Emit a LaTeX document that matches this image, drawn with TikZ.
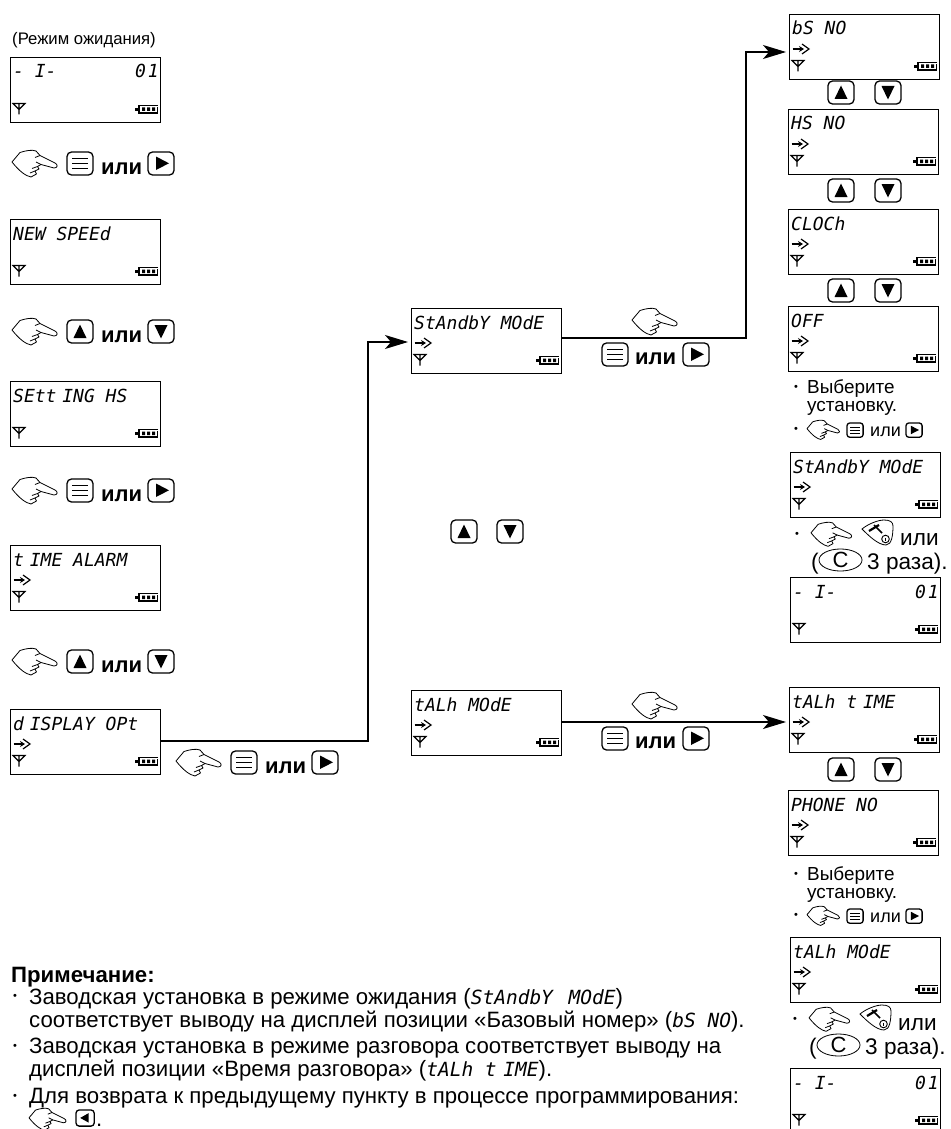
\documentclass[tikz,border=0pt]{standalone}
\usepackage{fontspec}
\setmainfont{Liberation Sans}
\newfontfamily\lcdf{DejaVu Sans Mono}
\usetikzlibrary{arrows.meta,shapes.geometric}
\tikzset{
  lcdbox/.style={draw=black,line width=0.9pt,anchor=north west,inner sep=0pt,minimum width=150pt,minimum height=65pt},
  lcdtext/.style={anchor=base west,inner sep=0pt,font=\lcdf\itshape\fontsize{18}{18}\selectfont},
  lcdicon/.style={line width=1.2pt},
  link/.style={line width=1.2pt,black},
  arrowlink/.style={link,-{Stealth[length=23pt,width=14pt,inset=6pt]},shorten >=3pt},
  bigor/.style={anchor=base west,inner sep=0pt,font=\bfseries\fontsize{22}{22}\selectfont},
  txt/.style={anchor=base west,inner sep=0pt,font=\fontsize{18.9}{19}\selectfont},
  smallor/.style={anchor=base west,inner sep=0pt,font=\fontsize{18}{18}\selectfont},
  big/.style={anchor=base west,inner sep=0pt,font=\fontsize{22.6}{23}\selectfont},
  note/.style={anchor=base west,inner sep=0pt,font=\fontsize{22.2}{22}\selectfont},
  dot/.style={anchor=center,inner sep=0pt,font=\fontsize{11}{11}\selectfont},
}
\newcommand\inl[1]{{\lcdf\itshape\fontsize{19.5}{20}\selectfont #1}}
\newcommand\tgt{\hspace{-5pt}}
% LCD display: name, x, y, text
\newcommand\lcd[4]{%
  \node[lcdbox] (#1) at (#2,#3) {};
  \node[lcdtext] (#1t) at (#2+3,#3+21) {#4};
  \begin{scope}[shift={(#2+3,#3+46)},lcdicon]
    \draw (0,0.5)--(12,0.5)--(6,6.5)--cycle (6,0.5)--(6,11.5);
  \end{scope}
  \begin{scope}[shift={(#2+125,#3+48)}]
    \fill (0,3) rectangle (4,6);
    \draw[line width=1.4pt] (23,0.6)--(4,0.6)--(4,8)--(23,8);
    \fill (23,2)rectangle(22.2,7);
    \fill (7,2.5) rectangle (10,6) (12,2.5) rectangle (15,6) (17,2.5) rectangle (20,6);
  \end{scope}}
\newcommand\lcdarrow[2]{%
  \begin{scope}[shift={(#1+3,#2+35)},lcdicon]
    \draw[-{Stealth[length=5pt,width=6pt]}] (0.5,0)--(12,0);
    \draw (10,-5)--(17,0)--(10,5);
  \end{scope}}
% pointing hand: x, y, scale
\newcommand\hand[3]{%
  \begin{scope}[shift={(#1,#2)},scale=#3,line width=0.8pt,line join=round]
    \draw (0,12)--(8,2.5) .. controls (14,0.5) and (20,-0.5) .. (24,1)--(28,5.5)--(43,13)
      .. controls (46,14.5) and (46,18) .. (42,18)--(29,14.5)--(25.5,16.5)--(27,19)--(23,21)--(24.5,24)--(19,27)
      .. controls (14,26) and (8,22) .. (0,12);
    \draw (28,5.5)--(23,7.5) (29,14.5)--(24,12) (25.5,16.5)--(20,18.5) (23,21)--(18,23);
  \end{scope}}
% key: x, y, scale, kind
\newcommand\glyphmenu{\draw[line width=1pt] (5,6.5)--(21,6.5) (5,11.5)--(21,11.5) (5,16.5)--(21,16.5);}
\newcommand\glyphright{\fill (8,4.5)--(8,18)--(21,11.3)--cycle;}
\newcommand\glyphleft{\fill (18,4.5)--(18,18)--(6,11.3)--cycle;}
\newcommand\glyphup{\fill (13,4.5)--(6.5,18)--(19.5,18)--cycle;}
\newcommand\glyphdown{\fill (6.5,5)--(19.5,5)--(13,18.5)--cycle;}
\newcommand\keyb[4]{%
  \begin{scope}[shift={(#1,#2)},scale=#3]
    \pgfmathsetlengthmacro\rc{4.5pt*#3}
    \draw[line width=1.3pt,rounded corners=\rc] (0,0) rectangle (26,23);
    \csname glyph#4\endcsname
  \end{scope}}
\newcommand\bigrow[5]{% name, x, y, key1, key2
  \hand{#2}{#3}{1}
  \keyb{#2+55}{#3+2}{1}{#4}
  \node[bigor] (#1) at (#2+89,#3+24) {или};
  \keyb{#2+136}{#3+2}{1}{#5}}
\newcommand\updown[1]{\keyb{828}{#1}{1}{up}\keyb{875}{#1}{1}{down}}
\newcommand\pickrow[3]{% name, baseline 1, hand y
  \node[dot] (#1a) at (796,#2-5) {•};
  \node[txt] (#1b) at (807,#2) {Выберите};
  \node[txt] (#1c) at (807,#2+18) {установку.};
  \node[dot] (#1d) at (796,#3+10) {•};
  \hand{807}{#3}{0.72}
  \keyb{847}{#3+3}{0.62}{menu}
  \node[smallor] (#1e) at (870,#3+16) {или};
  \keyb{906}{#3+3}{0.62}{right}}
\newcommand\phonekey[2]{%
  \begin{scope}[shift={(#1,#2)},line width=0.8pt]
    \draw (0,9) .. controls (6,4) and (16,0) .. (22,0) .. controls (28,0) and (31,2) .. (31,6)
      .. controls (31,14) and (30,25) .. (24,25) .. controls (16,25) and (6,15) .. (0,9)--cycle;
    \draw[line width=2.2pt] (7,11)--(17,5);
    \draw[line width=1.6pt] (12,5)--(20,13);
    \draw[line width=0.9pt] (23.5,19) circle (3.8);
    \draw[line width=0.9pt] (23.5,17.5)--(23.5,20.5);
  \end{scope}}
\newcommand\exitrow[3]{% name, x, y
  \node[dot] (#1a) at (#2-14,#3+13) {•};
  \hand{#2}{#3}{0.9}
  \phonekey{#2+51}{#3-2}
  \node[big] (#1b) at (#2+89,#3+23) {или};
  \node[big] (#1c) at (#2,#3+47) {(};
  \node[draw,ellipse,line width=0.8pt,inner sep=0pt,minimum width=43pt,minimum height=20pt,font=\fontsize{22}{22}\selectfont] (#1d) at (#2+29.5,#3+38) {C};
  \node[big] (#1e) at (#2+56,#3+47) {3 раза).};}
\begin{document}
\begin{tikzpicture}[x=1pt,y=-1pt]
\useasboundingbox (0,0) rectangle (950,1129);
\clip (0,0) rectangle (950,1129);
% left column
\node[anchor=base west,inner sep=0pt,font=\fontsize{16.7}{17}\selectfont] (standby) at (12,45) {(Режим ожидания)};
\lcd{a1}{10}{57}{- I-}
\node[lcdtext,anchor=base east] (a1r) at (159,78) {0\hspace{2pt}1};
\bigrow{r1}{12}{150}{menu}{right}
\lcd{a2}{10}{219}{NEW SPEEd}
\bigrow{r2}{12}{318}{up}{down}
\lcd{a3}{10}{381}{SEtt\tgt{} ING HS}
\bigrow{r3}{12}{477}{menu}{right}
\lcd{a4}{10}{545}{t\tgt{} IME ALARM}\lcdarrow{10}{545}
\bigrow{r4}{12}{648}{up}{down}
\lcd{a5}{10}{709}{d\tgt{} ISPLAY OPt}\lcdarrow{10}{709}
\bigrow{r5}{176}{749}{menu}{right}
% middle column
\lcd{m1}{411}{308}{StAndbY MOdE}\lcdarrow{411}{308}
\hand{632}{308}{1}
\keyb{602}{343}{1}{menu}
\node[bigor] (m1or) at (635,364) {или};
\keyb{683}{343}{1}{right}
\keyb{451}{520}{1}{up}
\keyb{497}{520}{1}{down}
\lcd{m2}{411}{690}{tALh MOdE}\lcdarrow{411}{690}
\hand{632}{692}{1}
\keyb{602}{727}{1}{menu}
\node[bigor] (m2or) at (635,748) {или};
\keyb{683}{727}{1}{right}
% right column, standby
\lcd{s1}{789}{14}{bS NO}\lcdarrow{789}{14}
\updown{81}
\lcd{s2}{788}{109}{HS NO}\lcdarrow{788}{109}
\updown{179}
\lcd{s3}{788}{209}{CLOCh}\lcdarrow{788}{209}
\updown{279}
\lcd{s4}{788}{306}{OFF}\lcdarrow{788}{306}
\pickrow{c1}{393}{420}
\lcd{s5}{790}{452}{StAndbY MOdE}\lcdarrow{790}{452}
\exitrow{e1}{811}{522}
\lcd{s6}{790}{577}{- I-}
\node[lcdtext,anchor=base east] (s6r) at (939,598) {0\hspace{2pt}1};
% right column, talk
\lcd{t1}{789}{687}{tALh t\tgt{} IME}\lcdarrow{789}{687}
\updown{758}
\lcd{t2}{788}{790}{PHONE NO}\lcdarrow{788}{790}
\pickrow{c2}{880}{906}
\lcd{t3}{790}{937}{tALh MOdE}\lcdarrow{790}{937}
\exitrow{e2}{809}{1007}
\lcd{t4}{790}{1068}{- I-}
\node[lcdtext,anchor=base east] (t4r) at (939,1089) {0\hspace{2pt}1};
% connectors
\coordinate (p1) at (a5.east |- 0,741);
\coordinate (p2) at (m1.west |- 0,342);
\coordinate (p3) at (m1.east |- 0,338);
\coordinate (p4) at (s1.west |- 0,52);
\coordinate (p5) at (m2.east |- 0,722);
\coordinate (p6) at (t1.west |- 0,722);
\coordinate (v1) at (368,0);
\coordinate (v2) at (746,0);
\draw[arrowlink] (p1) -- (p1 -| v1) -- (v1 |- p2) -- (p2);
\draw[arrowlink] (p3) -- (p3 -| v2) -- (v2 |- p4) -- (p4);
\draw[arrowlink] (p5) -- (p6);
% notes
\node[anchor=base west,inner sep=0pt,font=\bfseries\fontsize{22.2}{22}\selectfont] (n0) at (11,982) {Примечание:};
\node[dot] (b1) at (15,997) {•};
\node[note] (n1) at (29,1004) {Заводская установка в режиме ожидания (\inl{StAndbY\hspace{4pt} MOdE})};
\node[note] (n2) at (29,1027) {соответствует выводу на дисплей позиции «Базовый номер» (\inl{bS NO}).};
\node[dot] (b2) at (15,1047) {•};
\node[note] (n3) at (29,1053) {Заводская установка в режиме разговора соответствует выводу на};
\node[note] (n4) at (29,1076) {дисплей позиции «Время разговора» (\inl{tALh t\tgt{} IME}).};
\node[dot] (b3) at (15,1097) {•};
\node[note] (n5) at (29,1103) {Для возврата к предыдущему пункту в процессе программирования:};
\hand{29}{1108}{0.82}
\keyb{76}{1110}{0.7}{left}
\node[note] (n6) at (96,1126.5) {.};
\end{tikzpicture}
\end{document}
